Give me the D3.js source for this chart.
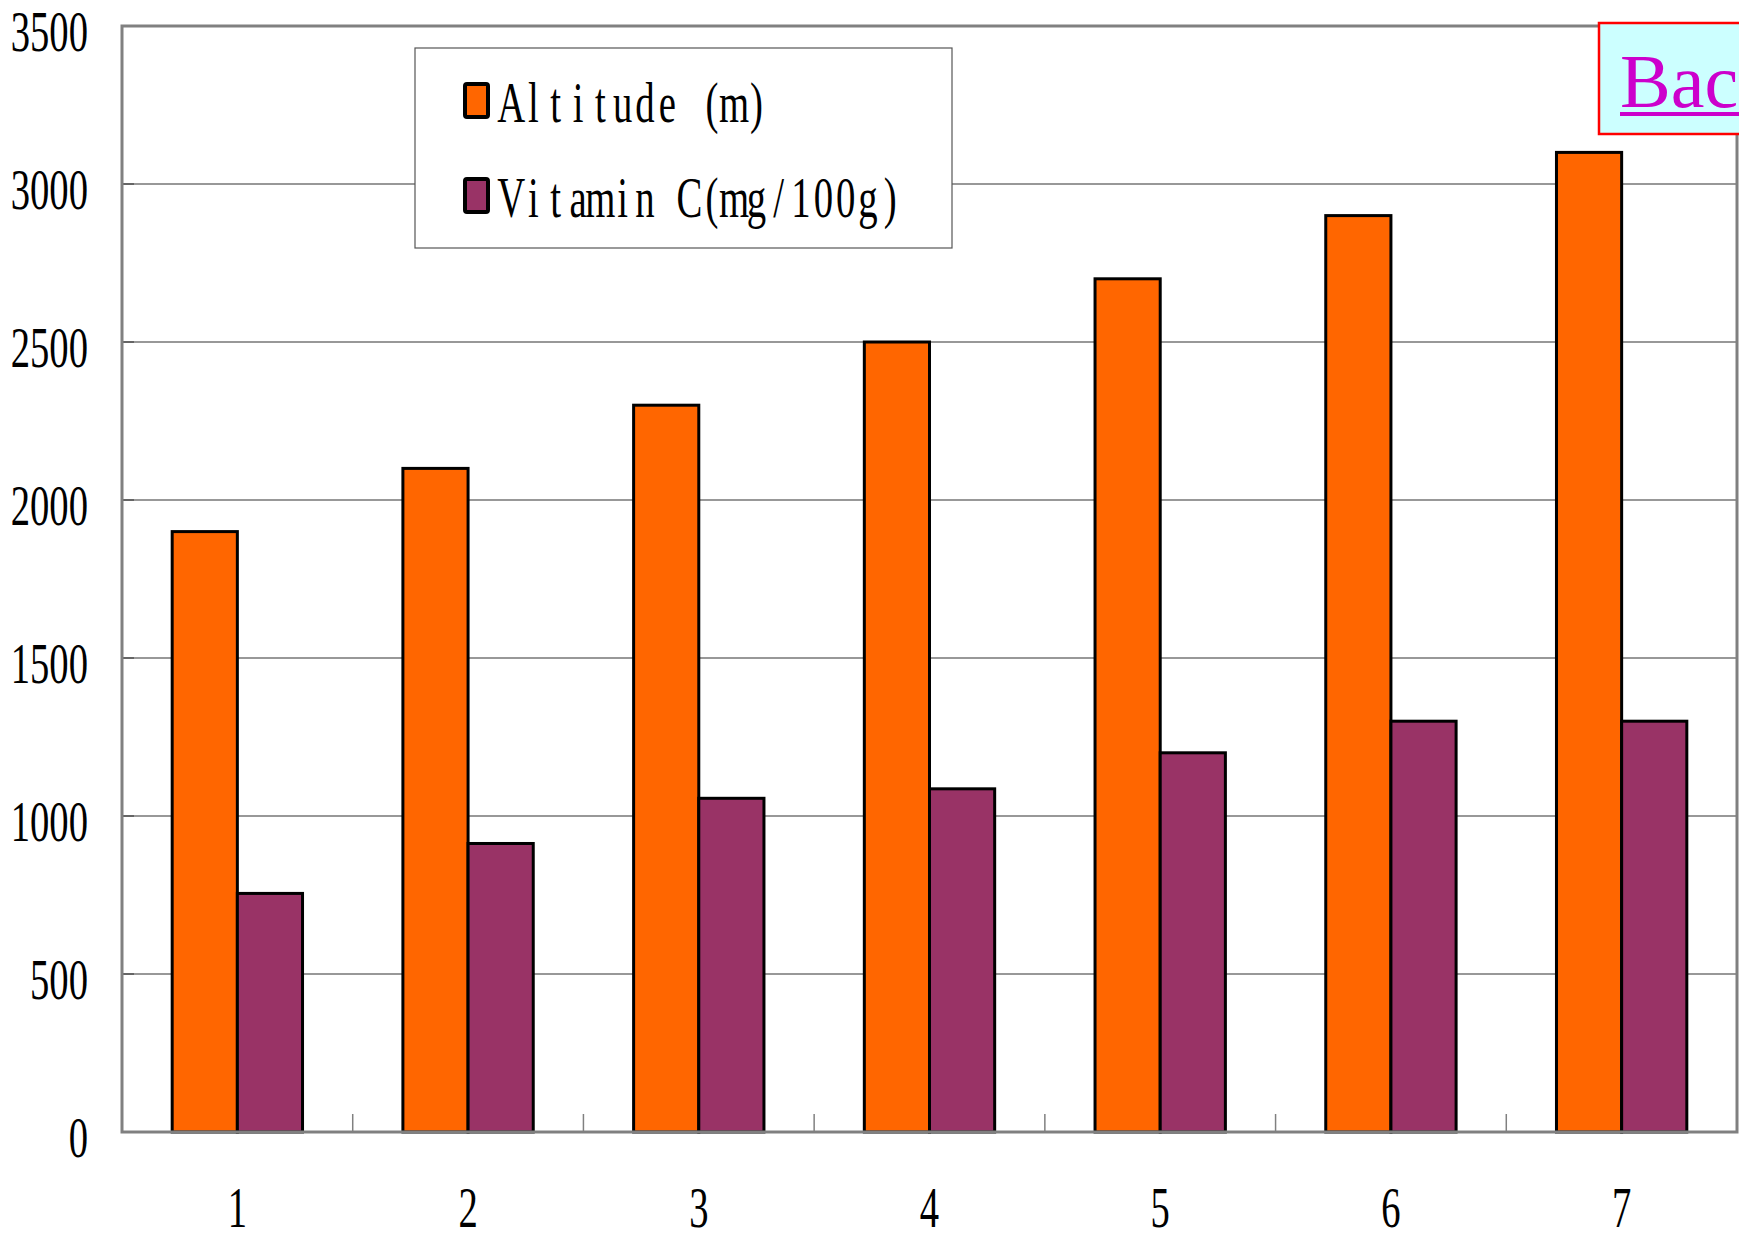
<!DOCTYPE html>
<html>
<head>
<meta charset="utf-8">
<script src="https://cdn.jsdelivr.net/npm/d3@7"></script>
<style>
  html, body { margin: 0; padding: 0; background: #fff; }
  svg { display: block; }
</style>
</head>
<body>
<svg id="chart" width="1739" height="1240"></svg>
<script>
const categories = ["1", "2", "3", "4", "5", "6", "7"];
const seriesNames = ["Altitude (m)", "Vitamin C(mg/100g)"];
const altitude = [1900, 2100, 2300, 2500, 2700, 2900, 3100];
const vitaminC = [755, 913, 1056, 1086, 1200, 1300, 1300];
const yTicks = [0, 500, 1000, 1500, 2000, 2500, 3000, 3500];
const colors = ["#FF6600", "#993366"];

(function () {
const svg = d3.select("#chart");
const pLeft = 122, pRight = 1737, pTop = 26, pBottom = 1132;

const x = d3.scaleBand().domain(categories).range([pLeft, pRight]).padding(0);
const xs = d3.scaleBand().domain([0, 1]).range([0, x.bandwidth()]).paddingInner(0).paddingOuter(0.77);
const y = d3.scaleLinear().domain([0, 3500]).range([pBottom, pTop]);

// gridlines
svg.append("g").selectAll("line").data(yTicks.filter(d => d > 0 && d < 3500)).join("line")
  .attr("x1", pLeft).attr("x2", pRight)
  .attr("y1", d => y(d)).attr("y2", d => y(d))
  .attr("stroke", "#333").attr("stroke-width", 1.1);

// y ticks (inward)
svg.append("g").selectAll("line").data(yTicks).join("line")
  .attr("x1", pLeft).attr("x2", pLeft + 12)
  .attr("y1", d => y(d)).attr("y2", d => y(d))
  .attr("stroke", "#555").attr("stroke-width", 1.5);

// x ticks at band boundaries (inward)
const bounds = categories.slice(1).map(c => x(c));
svg.append("g").selectAll("line").data(bounds).join("line")
  .attr("x1", d => d).attr("x2", d => d)
  .attr("y1", pBottom).attr("y2", pBottom - 18)
  .attr("stroke", "#808080").attr("stroke-width", 1.5);

// bars
const data = categories.map((c, i) => ({ c, vals: [altitude[i], vitaminC[i]] }));
const groups = svg.append("g").selectAll("g").data(data).join("g")
  .attr("transform", d => `translate(${x(d.c)},0)`);
groups.selectAll("rect").data(d => d.vals.map((v, k) => ({ v, k }))).join("rect")
  .attr("x", d => xs(d.k))
  .attr("width", xs.bandwidth())
  .attr("y", d => y(d.v))
  .attr("height", d => y(0) - y(d.v))
  .attr("fill", d => colors[d.k])
  .attr("stroke", "#000").attr("stroke-width", 3);

// plot border
svg.append("rect").attr("x", pLeft).attr("y", pTop)
  .attr("width", pRight - pLeft).attr("height", pBottom - pTop)
  .attr("fill", "none").attr("stroke", "#808080").attr("stroke-width", 3);

// y labels
const yl = svg.append("g").selectAll("g").data(yTicks).join("g")
  .attr("transform", d => `translate(88,${y(d) + 25}) scale(0.69,1)`);
yl.append("text")
  .attr("text-anchor", "end")
  .attr("font-family", "Liberation Serif, serif")
  .attr("font-size", 56)
  .attr("fill", "#000")
  .text(d => d);

// x labels
const xl = svg.append("g").selectAll("g").data(categories).join("g")
  .attr("transform", d => `translate(${x(d) + x.bandwidth() / 2},1227) scale(0.69,1)`);
xl.append("text")
  .attr("text-anchor", "middle")
  .attr("font-family", "Liberation Serif, serif")
  .attr("font-size", 56)
  .attr("fill", "#000")
  .text(d => d);

// legend
const lg = svg.append("g");
lg.append("rect").attr("x", 415).attr("y", 48).attr("width", 537).attr("height", 200)
  .attr("fill", "#fff").attr("stroke", "#555").attr("stroke-width", 1.2);
const legendRows = [122, 217];
const cell = 22.3, sx = 0.68;
seriesNames.forEach((name, i) => {
  lg.append("rect").attr("x", 465).attr("y", legendRows[i] - 38).attr("width", 23).attr("height", 33)
    .attr("rx", 2)
    .attr("fill", colors[i]).attr("stroke", "#000").attr("stroke-width", 4);
  const xsList = Array.from(name).map((ch, j) => ((j + 0.5) * cell / sx).toFixed(2)).join(" ");
  lg.append("g").attr("transform", `translate(500,${legendRows[i]}) scale(${sx},1)`)
    .append("text")
    .attr("x", xsList)
    .attr("text-anchor", "middle")
    .attr("font-family", "Liberation Serif, serif")
    .attr("font-size", 57)
    .attr("fill", "#000")
    .style("white-space", "pre")
    .text(name);
});

// Back button
const bk = svg.append("g");
bk.append("rect").attr("x", 1599).attr("y", 23).attr("width", 220).attr("height", 111)
  .attr("fill", "#CCFFFF").attr("stroke", "#FF0000").attr("stroke-width", 2.5);
bk.append("text").attr("x", 1620).attr("y", 107)
  .attr("font-family", "Liberation Serif, serif").attr("font-size", 76)
  .attr("fill", "#CC00CC").text("Back");
bk.append("line").attr("x1", 1620).attr("x2", 1800).attr("y1", 114).attr("y2", 114)
  .attr("stroke", "#CC00CC").attr("stroke-width", 4);
})();
</script>
</body>
</html>
